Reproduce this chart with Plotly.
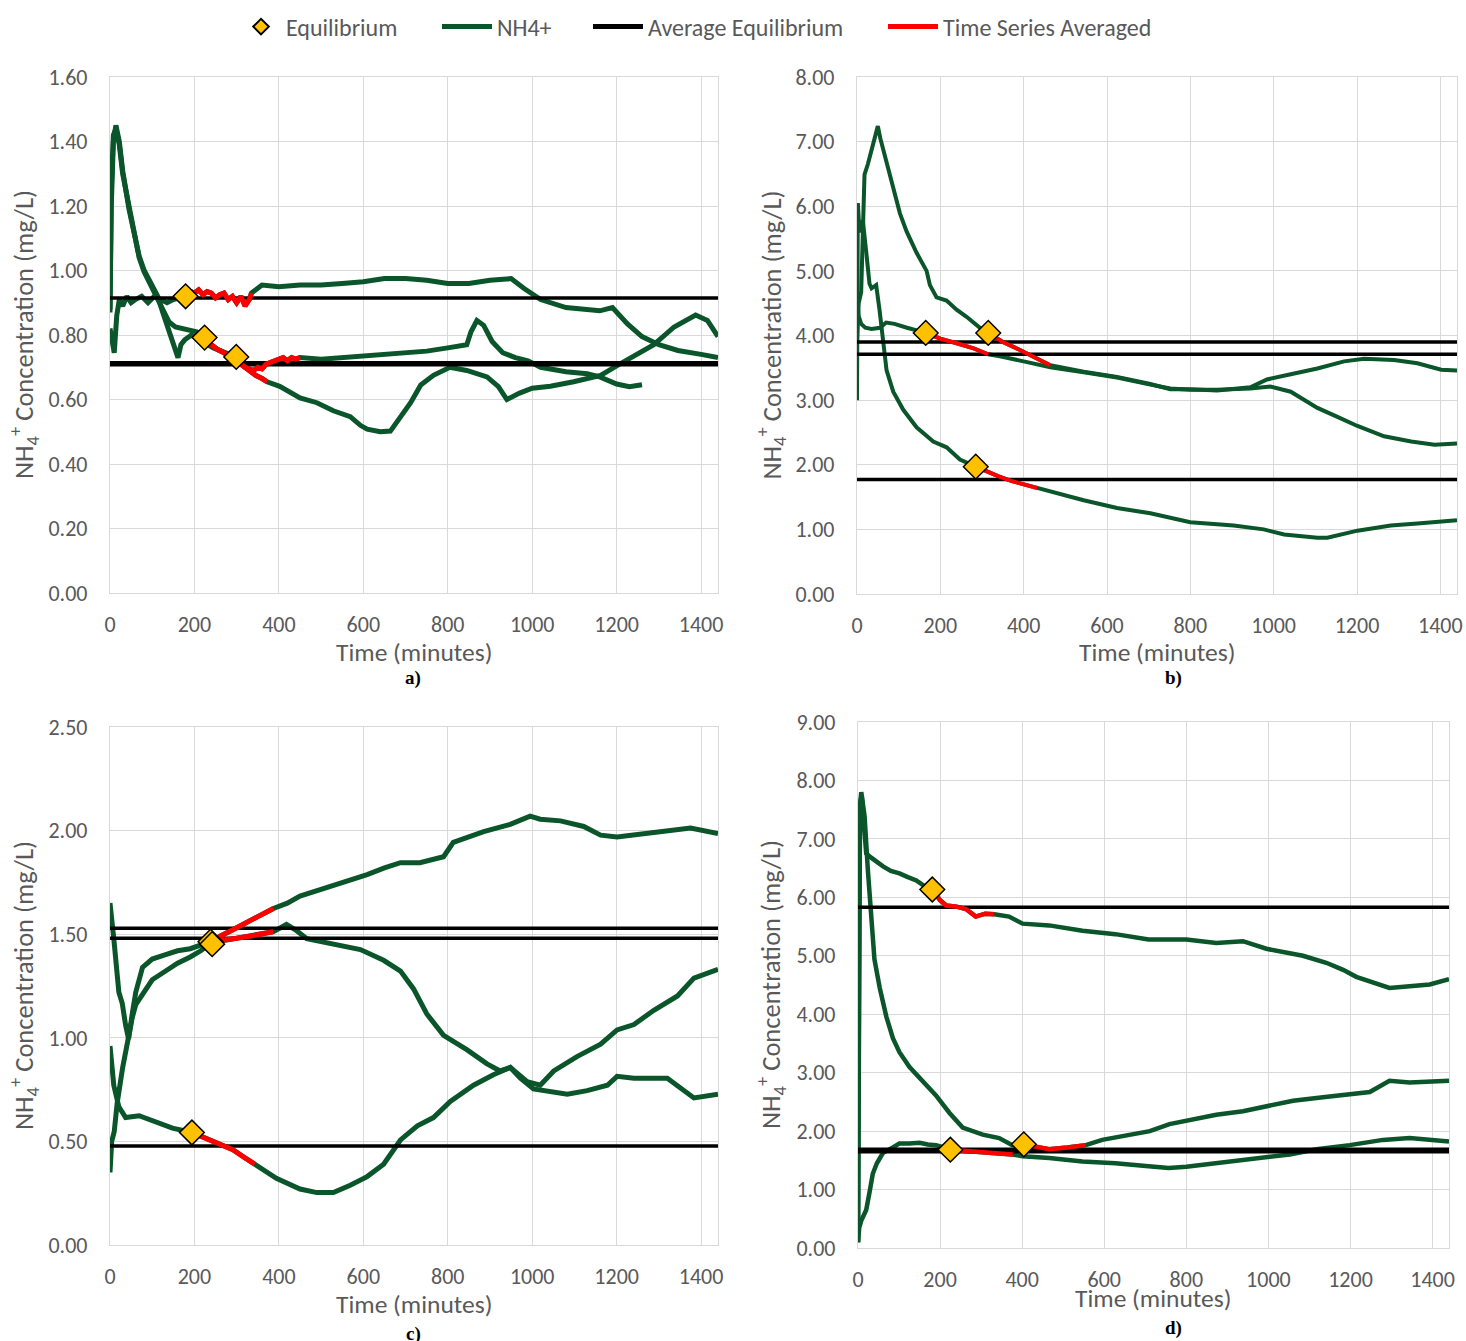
import plotly.graph_objects as go

# ---------------- data ----------------
# Panel a
A1_T = [0,4,10,16,22,30,40,50,60,75,90,105,120,135,150,165,179,190,200,210,220,230,240,250,260,270,280,290,300,310,320,330,335,360,400,450,500,550,600,650,700,750,800,850,900,950,980,1020,1080,1160,1190,1225,1260,1300,1345,1400,1440]
A1_V = [0.82,0.78,0.745,0.86,0.91,0.89,0.92,0.90,0.91,0.92,0.90,0.92,0.91,0.90,0.91,0.915,0.92,0.935,0.93,0.94,0.925,0.935,0.93,0.915,0.925,0.93,0.91,0.92,0.90,0.92,0.89,0.91,0.93,0.955,0.95,0.955,0.955,0.96,0.965,0.975,0.975,0.97,0.96,0.96,0.97,0.975,0.945,0.91,0.885,0.875,0.885,0.835,0.795,0.77,0.752,0.74,0.73]
A1_RED = [179, 335]
A2_T = [0,3,8,14,22,30,45,57,69,81,97,113,125,135,145,155,161,168,177,193,210,225,245,265,285,299,310,320,330,340,350,360,370,380,390,400,410,420,430,440,450,500,550,600,650,700,750,800,845,855,869,885,905,930,960,990,1020,1080,1130,1160,1200,1230,1260]
A2_V = [0.88,1.20,1.40,1.45,1.40,1.31,1.19,1.12,1.045,1.0,0.96,0.92,0.87,0.83,0.79,0.76,0.73,0.77,0.785,0.80,0.785,0.775,0.76,0.75,0.74,0.732,0.71,0.70,0.695,0.69,0.70,0.695,0.71,0.715,0.72,0.725,0.73,0.72,0.73,0.725,0.73,0.725,0.73,0.735,0.74,0.745,0.75,0.76,0.77,0.81,0.845,0.83,0.78,0.745,0.73,0.72,0.70,0.686,0.68,0.67,0.648,0.64,0.646]
A2_RED = [299, 450]
A3_T = [0,3,8,14,22,30,45,57,69,81,97,113,125,140,155,170,190,205,224,240,255,270,285,300,315,330,345,360,372,402,450,490,529,569,593,609,640,664,688,712,736,766,805,845,893,920,940,970,1000,1043,1098,1162,1201,1241,1288,1336,1387,1415,1440]
A3_V = [0.87,1.25,1.42,1.44,1.39,1.30,1.20,1.11,1.04,0.995,0.955,0.91,0.88,0.84,0.825,0.82,0.815,0.81,0.792,0.77,0.755,0.745,0.73,0.72,0.705,0.69,0.675,0.665,0.655,0.641,0.605,0.59,0.565,0.547,0.52,0.508,0.50,0.502,0.545,0.59,0.645,0.675,0.70,0.69,0.67,0.64,0.60,0.62,0.635,0.641,0.655,0.675,0.705,0.735,0.77,0.825,0.862,0.845,0.795]
A3_RED = [224, 372]
A_EQ_T = [179, 224, 299]
A_EQ_V = [0.92, 0.792, 0.732]
A_AVG = [0.915, 0.714, 0.708]

# Panel b
B1_T = [0,4,10,14,18,26,34,42,50,56,63,79,103,119,143,167,175,191,215,239,263,295,315,350,390,430,464,544,624,704,752,800,864,944,984,1041,1105,1169,1217,1289,1345,1402,1440]
B1_V = [3.9,4.5,4.67,5.6,6.49,6.65,6.85,7.1,7.24,7.05,6.88,6.49,5.89,5.61,5.28,5.0,4.78,4.59,4.54,4.4,4.29,4.12,4.04,3.9,3.78,3.65,3.54,3.44,3.36,3.25,3.17,3.17,3.15,3.2,3.32,3.40,3.49,3.6,3.64,3.62,3.57,3.47,3.46]
B1_RED = [315, 464]
B2_T = [0,4,10,20,35,55,70,90,120,143,165,200,240,280,315,343,400,464,544,624,704,752,800,864,944,992,1041,1105,1153,1201,1265,1330,1386,1440]
B2_V = [4.6,4.3,4.18,4.12,4.1,4.12,4.2,4.18,4.12,4.08,4.04,3.95,3.88,3.8,3.71,3.68,3.6,3.51,3.43,3.35,3.24,3.18,3.16,3.16,3.18,3.21,3.13,2.88,2.74,2.6,2.44,2.36,2.31,2.33]
B2_RED = [165, 315]
B3_T = [0,2,6,14,22,30,35,46,54,63,71,87,111,143,183,215,247,285,310,340,370,400,432,464,544,624,704,800,904,976,1025,1105,1129,1201,1281,1345,1426,1440]
B3_V = [3.0,6.05,5.6,5.78,5.3,4.8,4.73,4.78,4.4,3.85,3.46,3.13,2.85,2.58,2.36,2.27,2.08,1.97,1.9,1.82,1.75,1.70,1.64,1.58,1.45,1.33,1.25,1.11,1.06,1.0,0.92,0.87,0.87,0.98,1.06,1.09,1.13,1.14]
B3_RED = [285, 432]
B_EQ_T = [165, 315, 285]
B_EQ_V = [4.04, 4.04, 1.97]
B_AVG = [3.90, 3.71, 1.77]

# Panel c
C1_T = [0,4,10,17,30,45,53,61,80,100,130,160,190,215,238,260,290,320,350,387,420,450,490,529,570,609,650,688,734,790,813,850,885,948,995,1019,1067,1122,1162,1201,1241,1304,1375,1440]
C1_V = [0.35,0.50,0.547,0.685,0.857,1.03,1.10,1.16,1.22,1.28,1.32,1.36,1.39,1.42,1.455,1.49,1.52,1.55,1.585,1.624,1.65,1.684,1.71,1.736,1.76,1.788,1.82,1.845,1.845,1.874,1.943,1.97,1.995,2.03,2.07,2.055,2.047,2.02,1.978,1.969,1.978,1.995,2.012,1.986]
C1_RED = [238, 387]
C2_T = [0,4,9,21,29,37,44,53,61,77,100,130,160,190,215,238,270,300,330,360,387,418,440,466,529,593,648,688,719,750,790,845,893,924,948,972,1003,1035,1083,1130,1178,1201,1241,1320,1352,1383,1440]
C2_V = [1.65,1.55,1.478,1.22,1.167,1.06,0.995,1.12,1.22,1.34,1.38,1.40,1.42,1.43,1.445,1.464,1.47,1.48,1.49,1.50,1.512,1.547,1.52,1.478,1.452,1.426,1.374,1.322,1.236,1.116,1.012,0.943,0.874,0.84,0.857,0.805,0.753,0.745,0.728,0.745,0.771,0.814,0.805,0.805,0.753,0.71,0.728]
C2_RED = [238, 387]
C3_T = [0,4,9,21,37,69,101,148,194,220,250,291,320,343,394,450,490,529,569,609,648,688,728,766,806,861,908,948,988,1019,1051,1106,1162,1201,1241,1288,1344,1383,1440]
C3_V = [0.96,0.85,0.77,0.667,0.615,0.624,0.598,0.564,0.543,0.52,0.49,0.46,0.42,0.39,0.322,0.27,0.253,0.253,0.288,0.33,0.39,0.507,0.575,0.615,0.693,0.771,0.822,0.857,0.788,0.771,0.84,0.909,0.969,1.038,1.064,1.133,1.202,1.288,1.331]
C3_RED = [194, 343]
C_EQ_T = [238, 242, 194]
C_EQ_V = [1.464, 1.452, 0.543]
C_AVG = [1.529, 1.481, 0.478]

# Panel d
D1_T = [0,5,9,14,20,28,45,61,80,101,120,142,160,181,200,215,240,263,287,310,332,368,401,466,547,627,708,759,800,873,938,995,1035,1084,1141,1182,1214,1263,1295,1344,1393,1440]
D1_V = [0.1,7.6,7.75,7.2,6.75,6.7,6.6,6.53,6.45,6.41,6.35,6.29,6.2,6.134,5.95,5.86,5.84,5.80,5.67,5.72,5.71,5.67,5.55,5.52,5.43,5.37,5.28,5.27,5.28,5.22,5.25,5.12,5.06,5.0,4.88,4.76,4.64,4.52,4.45,4.48,4.51,4.6]
D1_RED = [181, 332]
D2_T = [0,4,8,12,16,24,32,40,53,69,85,101,125,158,190,223,255,304,344,376,404,440,466,510,555,595,668,711,759,800,873,938,1000,1060,1133,1198,1247,1295,1344,1440]
D2_V = [0.1,7.5,7.8,7.6,7.39,6.47,5.55,4.94,4.45,3.96,3.59,3.35,3.1,2.86,2.61,2.31,2.06,1.94,1.88,1.76,1.774,1.72,1.69,1.72,1.76,1.85,1.94,2.0,2.12,2.18,2.28,2.34,2.43,2.52,2.58,2.64,2.67,2.86,2.83,2.86]
D2_RED = [404, 555]
D3_T = [0,3,8,20,28,36,46,61,85,101,125,150,170,190,210,225,260,300,340,377,401,466,547,627,708,757,800,873,1000,1052,1117,1198,1279,1344,1440]
D3_V = [0.1,0.35,0.47,0.65,0.95,1.27,1.45,1.63,1.72,1.79,1.79,1.80,1.77,1.76,1.72,1.682,1.66,1.64,1.62,1.6,1.57,1.54,1.48,1.45,1.40,1.37,1.39,1.45,1.54,1.6,1.69,1.76,1.85,1.88,1.82]
D3_RED = [225, 377]
D_EQ_T = [181, 225, 404]
D_EQ_V = [6.134, 1.682, 1.774]
D_AVG = [5.83, 1.69, 1.645]

X_TICKS = [0, 200, 400, 600, 800, 1000, 1200, 1400]
X_MAX = 1440
LABELS = ["a)", "b)", "c)", "d)"]
LEGEND_NAMES = ["Equilibrium", "NH4+", "Average Equilibrium", "Time Series Averaged"]
Y_TITLE = "NH<sub>4</sub><sup>+</sup> Concentration (mg/L)"
X_TITLE = "Time (minutes)"

# ---------------- layout helpers ----------------
W, H = 1466, 1341
GREEN = "#0A552A"
RED = "#FF0000"
GOLD = "#FFC000"
GRID = "#D9D9D9"
TXT = "#595959"
FONT = "Carlito, Calibri, Lato, sans-serif"

panels = [
    dict(px=(110, 718), py=(77, 593), ymax=1.6, dtick=0.2, lw=5,
         series=[(A1_T, A1_V, A1_RED), (A2_T, A2_V, A2_RED), (A3_T, A3_V, A3_RED)],
         eq=(A_EQ_T, A_EQ_V), avg=A_AVG, ytitle_x=24, xtitle_y=652, lab_y=678, lab_x=413),
    dict(px=(857, 1457), py=(77, 594), ymax=8, dtick=1, lw=4,
         series=[(B1_T, B1_V, B1_RED), (B2_T, B2_V, B2_RED), (B3_T, B3_V, B3_RED)],
         eq=(B_EQ_T, B_EQ_V), avg=B_AVG, ytitle_x=771, xtitle_y=652, lab_y=678, lab_x=1173),
    dict(px=(110, 718), py=(727, 1245), ymax=2.5, dtick=0.5, lw=5,
         series=[(C1_T, C1_V, C1_RED), (C2_T, C2_V, C2_RED), (C3_T, C3_V, C3_RED)],
         eq=(C_EQ_T, C_EQ_V), avg=C_AVG, ytitle_x=24, xtitle_y=1304, lab_y=1334, lab_x=413),
    dict(px=(858, 1449), py=(722, 1248), ymax=9, dtick=1, lw=4.5,
         series=[(D1_T, D1_V, D1_RED), (D2_T, D2_V, D2_RED), (D3_T, D3_V, D3_RED)],
         eq=(D_EQ_T, D_EQ_V), avg=D_AVG, ytitle_x=771, xtitle_y=1298, lab_y=1328, lab_x=1173),
]

# one legend box per entry, placed like the reference (screen px of entry start)
LEG_POS = {"m": ("legend", 236, 40), "g": ("legend2", 437, 50),
           "k": ("legend3", 588, 50), "r": ("legend4", 883, 50)}

fig = go.Figure()
annotations = []
shown = set()


def leg(key):
    if key in shown:
        return False
    shown.add(key)
    return True


for i, p in enumerate(panels):
    k = "" if i == 0 else str(i + 1)
    xa, ya = "x" + k, "y" + k
    for (t, v, red) in p["series"]:
        fig.add_trace(go.Scatter(x=t, y=v, xaxis=xa, yaxis=ya, mode="lines",
                                 line=dict(color=GREEN, width=p["lw"]), name=LEGEND_NAMES[1],
                                 legend=LEG_POS["g"][0], showlegend=leg("g")))
    for a in p["avg"]:
        fig.add_trace(go.Scatter(x=[0, X_MAX], y=[a, a], xaxis=xa, yaxis=ya, mode="lines",
                                 line=dict(color="black", width=3.5), name=LEGEND_NAMES[2],
                                 legend=LEG_POS["k"][0], showlegend=leg("k")))
    for (t, v, red) in p["series"]:
        rt = [tt for tt in t if red[0] <= tt <= red[1]]
        rv = [vv for tt, vv in zip(t, v) if red[0] <= tt <= red[1]]
        fig.add_trace(go.Scatter(x=rt, y=rv, xaxis=xa, yaxis=ya, mode="lines",
                                 line=dict(color=RED, width=p["lw"]), name=LEGEND_NAMES[3],
                                 legend=LEG_POS["r"][0], showlegend=leg("r")))
    fig.add_trace(go.Scatter(x=p["eq"][0], y=p["eq"][1], xaxis=xa, yaxis=ya, mode="markers",
                             marker=dict(symbol="diamond", size=19, color=GOLD,
                                         line=dict(color="black", width=1.5)),
                             name=LEGEND_NAMES[0], legend=LEG_POS["m"][0], showlegend=leg("m")))

    xd = [p["px"][0] / W, p["px"][1] / W]
    yd = [1 - p["py"][1] / H, 1 - p["py"][0] / H]
    axcommon = dict(showgrid=True, gridcolor=GRID, gridwidth=1.3, zeroline=False,
                    showline=True, mirror=True, linecolor=GRID, linewidth=1.3,
                    ticks="", automargin=False,
                    tickfont=dict(size=22, color=TXT, family=FONT))
    fig.update_layout(**{
        "xaxis" + k: dict(domain=xd, range=[0, X_MAX], tickvals=X_TICKS, anchor=ya,
                          ticklabelstandoff=11, **axcommon),
        "yaxis" + k: dict(domain=yd, range=[0, p["ymax"]], dtick=p["dtick"], tick0=0,
                          tickformat=".2f", anchor=xa, ticklabelstandoff=17, **axcommon),
    })
    cx = (p["px"][0] + p["px"][1]) / 2
    cy = (p["py"][0] + p["py"][1]) / 2
    annotations.append(dict(text=Y_TITLE, x=p["ytitle_x"] / W, y=1 - cy / H, xref="paper", yref="paper",
                            textangle=-90, showarrow=False, xanchor="center", yanchor="middle",
                            font=dict(size=26.5, color=TXT, family=FONT)))
    annotations.append(dict(text=X_TITLE, x=cx / W, y=1 - p["xtitle_y"] / H, xref="paper", yref="paper",
                            showarrow=False, xanchor="center", yanchor="middle",
                            font=dict(size=25.5, color=TXT, family=FONT)))
    annotations.append(dict(text="<b>" + LABELS[i] + "</b>", x=p["lab_x"] / W, y=1 - p["lab_y"] / H,
                            xref="paper", yref="paper", showarrow=False, xanchor="center",
                            yanchor="middle", font=dict(size=19, color="black",
                                                        family="Liberation Serif, Times New Roman, serif")))

legend_layout = {}
for key, (lname, xpx, iw) in LEG_POS.items():
    legend_layout[lname] = dict(orientation="h", x=xpx / W, xanchor="left", y=1 - 27 / H,
                                yanchor="middle", xref="container", yref="container",
                                font=dict(size=24, color=TXT, family=FONT), itemwidth=iw,
                                itemsizing="constant", bgcolor="rgba(0,0,0,0)", borderwidth=0)

fig.update_layout(
    width=W, height=H, margin=dict(l=0, r=0, t=0, b=0, pad=0, autoexpand=False),
    paper_bgcolor="white", plot_bgcolor="white",
    annotations=annotations,
    font=dict(family=FONT, color=TXT),
    **legend_layout,
)

fig.write_html("out.html", config={"displayModeBar": False},
               post_script="document.body.style.margin='0px';")
